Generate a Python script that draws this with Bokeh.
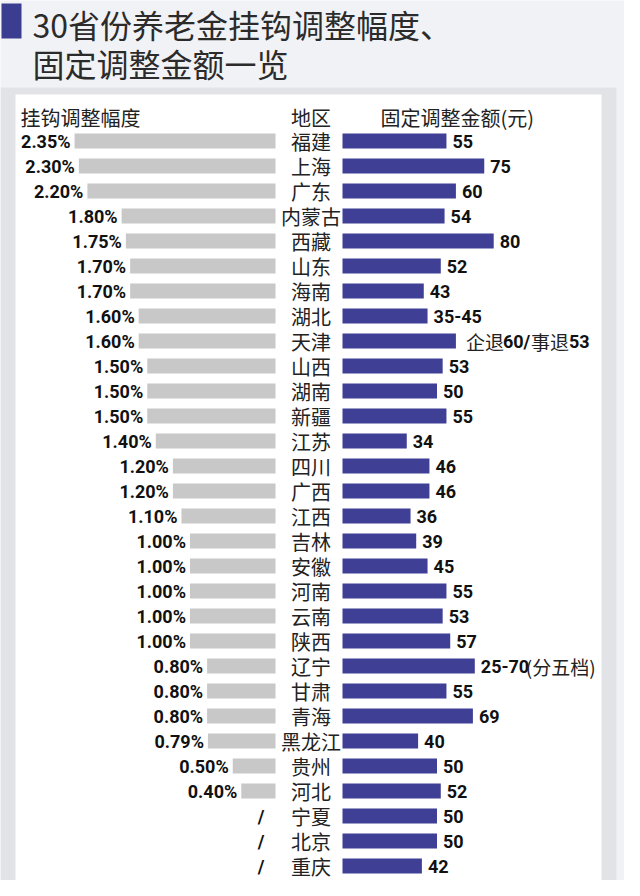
from bokeh.plotting import figure
from bokeh.models import Range1d, ColumnDataSource
from bokeh.core.properties import value
from bokeh.embed import file_html
from bokeh.resources import INLINE

# ---------------- data ----------------
title_lines = ["30省份养老金挂钩调整幅度、", "固定调整金额一览"]
header_left = "挂钩调整幅度"
header_mid = "地区"
header_right = "固定调整金额(元)"

regions = ["福建", "上海", "广东", "内蒙古", "西藏", "山东", "海南", "湖北", "天津", "山西",
           "湖南", "新疆", "江苏", "四川", "广西", "江西", "吉林", "安徽", "河南", "云南",
           "陕西", "辽宁", "甘肃", "青海", "黑龙江", "贵州", "河北", "宁夏", "北京", "重庆"]
pct = [2.35, 2.30, 2.20, 1.80, 1.75, 1.70, 1.70, 1.60, 1.60, 1.50,
       1.50, 1.50, 1.40, 1.20, 1.20, 1.10, 1.00, 1.00, 1.00, 1.00,
       1.00, 0.80, 0.80, 0.80, 0.79, 0.50, 0.40, None, None, None]
amount = [55, 75, 60, 54, 80, 52, 43, 45, 60, 53,
          50, 55, 34, 46, 46, 36, 39, 45, 55, 53,
          57, 70, 55, 69, 40, 50, 52, 50, 50, 42]
amount_label = ["55", "75", "60", "54", "80", "52", "43", "35-45", "", "53",
                "50", "55", "34", "46", "46", "36", "39", "45", "55", "53",
                "57", "25-70", "55", "69", "40", "50", "52", "50", "50", "42"]
# mixed-font labels: (region, text, pixel offset after bar end, bold?)
mixed_region = ["天津", "天津", "天津", "天津", "辽宁"]
mixed_text = ["企退", "60/", "事退", "53", "(分五档)"]
mixed_offset = [10, 47, 75, 113, 51]
mixed_bold = [False, True, False, True, False]

# ---------------- layout ----------------
W, H = 624, 880
X0, PPX = 275.0, 85.5      # pixel of 0% and pixels per 1%
A0, APX = 342.0, 1.89      # pixel of 0 yuan and pixels per yuan
Y0, RS = 140.5, 25.0       # pixel of first row centre and row spacing


def fx(px):
    return (px - X0) / PPX


def fy(py):
    return (py - Y0) / RS


BLUE = "#3e3f95"
GRAY = "#c8c8c8"
CJK = value("Noto Sans CJK SC")
NUM = value("Roboto")
NUM_SIZE = "18px"

p = figure(width=W, height=H, output_backend="svg", toolbar_location=None,
           x_range=Range1d(-X0 / PPX, (W - X0) / PPX),
           y_range=Range1d((H - Y0) / RS, -Y0 / RS),
           min_border=0, x_axis_location=None, y_axis_location=None,
           background_fill_color="#f1f2f5", border_fill_color="#f1f2f5",
           outline_line_color=None)
p.grid.visible = False
p.extra_x_ranges = {"amt": Range1d(-A0 / APX, (W - A0) / APX)}

# frame + white panel
p.quad(left=[fx(0)], right=[fx(616)], top=[fy(87)], bottom=[fy(H + 5)],
       fill_color="#e2e3e6", line_color=None)
p.quad(left=[fx(15)], right=[fx(601)], top=[fy(94)], bottom=[fy(H + 5)],
       fill_color="#ffffff", line_color=None)

# title
p.quad(left=[fx(1)], right=[fx(21)], top=[fy(3)], bottom=[fy(38)],
       fill_color="#3b3d90", line_color=None)
p.text(x=[fx(32), fx(32)], y=[fy(23), fy(62)], text=title_lines,
       text_font=CJK, text_font_size="32px", text_color="#2b2b2b",
       text_align="left", text_baseline="middle")

# headers
p.text(x=[fx(20)], y=[fy(117)], text=[header_left], text_font=CJK,
       text_font_size="20px", text_color="#222222", text_align="left",
       text_baseline="middle")
p.text(x=[fx(310.5)], y=[fy(117)], text=[header_mid], text_font=CJK,
       text_font_size="20px", text_color="#222222", text_align="center",
       text_baseline="middle")
p.text(x=[fx(380)], y=[fy(117)], text=[header_right], text_font=CJK,
       text_font_size="20px", text_color="#222222", text_align="left",
       text_baseline="middle")

rows = list(range(len(regions)))

# left (percentage) bars
li = [i for i in rows if pct[i] is not None]
lsrc = ColumnDataSource(dict(y=li, left=[-pct[i] for i in li],
                             lab=["%.2f%%" % pct[i] for i in li]))
p.hbar(y="y", left="left", right=0, height=0.6, source=lsrc,
       fill_color=GRAY, line_color=None)
p.text(x="left", y="y", text="lab", source=lsrc, x_offset=-4,
       text_align="right", text_baseline="middle", text_font=NUM,
       text_font_style="bold", text_font_size=NUM_SIZE, text_color="#111111")
ni = [i for i in rows if pct[i] is None]
p.text(x=[0] * len(ni), y=ni, text=["/"] * len(ni), x_offset=-11,
       text_align="right", text_baseline="middle", text_font=NUM,
       text_font_style="bold", text_font_size=NUM_SIZE, text_color="#111111")

# region names
p.text(x=[fx(310.5)] * len(rows), y=rows, text=regions, text_font=CJK,
       text_font_size="20px", text_color="#222222", text_align="center",
       text_baseline="middle")

# right (amount) bars
rsrc = ColumnDataSource(dict(y=rows, amt=amount, lab=amount_label))
p.hbar(y="y", left=0, right="amt", height=0.6, source=rsrc,
       fill_color=BLUE, line_color=None, x_range_name="amt")
p.text(x="amt", y="y", text="lab", source=rsrc, x_offset=6,
       text_align="left", text_baseline="middle", text_font=NUM,
       text_font_style="bold", text_font_size=NUM_SIZE, text_color="#111111",
       x_range_name="amt")

# mixed labels
for r, t, off, b in zip(mixed_region, mixed_text, mixed_offset, mixed_bold):
    i = regions.index(r)
    if b:
        p.text(x=[amount[i]], y=[i], text=[t], x_offset=off, text_align="left",
               text_baseline="middle", text_font=NUM, text_font_style="bold",
               text_font_size=NUM_SIZE, text_color="#111111", x_range_name="amt")
    else:
        p.text(x=[amount[i]], y=[i], text=[t], x_offset=off, text_align="left",
               text_baseline="middle", text_font=CJK,
               text_font_size="19px", text_color="#222222", x_range_name="amt")

open("out.html", "w").write(file_html(p, INLINE))
